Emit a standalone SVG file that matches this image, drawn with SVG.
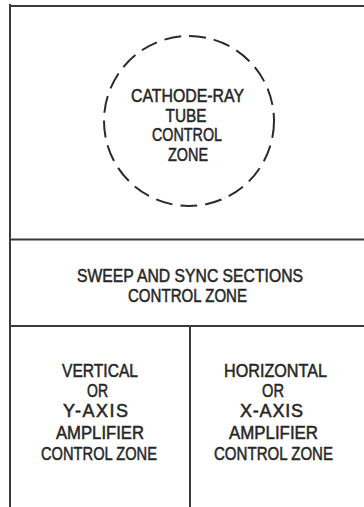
<svg xmlns="http://www.w3.org/2000/svg" width="364" height="507" viewBox="0 0 364 507">
<style>
.ln{stroke:#3a3a3a;stroke-width:2;fill:none}
.t{font-family:"Liberation Sans",Arial,sans-serif;font-size:18px;fill:#262626;stroke:#262626;stroke-width:0.5;text-anchor:middle}
</style>
<rect width="364" height="507" fill="#fff"/>
<g id="frame">
<line class="ln" x1="10" y1="4" x2="10" y2="507"/>
<line class="ln" x1="9" y1="6" x2="364" y2="6"/>
<line class="ln" x1="10" y1="239.5" x2="364" y2="239.5"/>
<line class="ln" x1="10" y1="326" x2="364" y2="326"/>
<line class="ln" x1="190" y1="326" x2="190" y2="507"/>
</g>
<g id="crt">
<circle cx="189" cy="121" r="85" fill="none" stroke="#2a2a2a" stroke-width="2" stroke-dasharray="17 8"/>
<text class="t" x="187.5" y="101.5" textLength="113" lengthAdjust="spacingAndGlyphs">CATHODE-RAY</text>
<text class="t" x="186" y="121.5" textLength="41" lengthAdjust="spacingAndGlyphs">TUBE</text>
<text class="t" x="187" y="141" textLength="70" lengthAdjust="spacingAndGlyphs">CONTROL</text>
<text class="t" x="188" y="161" textLength="40" lengthAdjust="spacingAndGlyphs">ZONE</text>
</g>
<g id="sweep">
<text class="t" x="190" y="281.5" textLength="226" lengthAdjust="spacingAndGlyphs">SWEEP AND SYNC SECTIONS</text>
<text class="t" x="187.5" y="301.5" textLength="119" lengthAdjust="spacingAndGlyphs">CONTROL ZONE</text>
</g>
<g id="vertical">
<text class="t" x="100" y="377" textLength="76" lengthAdjust="spacingAndGlyphs">VERTICAL</text>
<text class="t" x="97.5" y="397" textLength="21" lengthAdjust="spacingAndGlyphs">OR</text>
<text class="t" x="95.5" y="417" textLength="65" lengthAdjust="spacing">Y-AXIS</text>
<text class="t" x="100" y="438.5" textLength="88" lengthAdjust="spacingAndGlyphs">AMPLIFIER</text>
<text class="t" x="99" y="460" textLength="116" lengthAdjust="spacingAndGlyphs">CONTROL ZONE</text>
</g>
<g id="horizontal">
<text class="t" x="275.5" y="377" textLength="103" lengthAdjust="spacingAndGlyphs">HORIZONTAL</text>
<text class="t" x="273" y="397" textLength="22" lengthAdjust="spacingAndGlyphs">OR</text>
<text class="t" x="271.5" y="417" textLength="63" lengthAdjust="spacing">X-AXIS</text>
<text class="t" x="273.5" y="438.5" textLength="89" lengthAdjust="spacingAndGlyphs">AMPLIFIER</text>
<text class="t" x="273.5" y="460" textLength="119" lengthAdjust="spacingAndGlyphs">CONTROL ZONE</text>
</g>
</svg>
